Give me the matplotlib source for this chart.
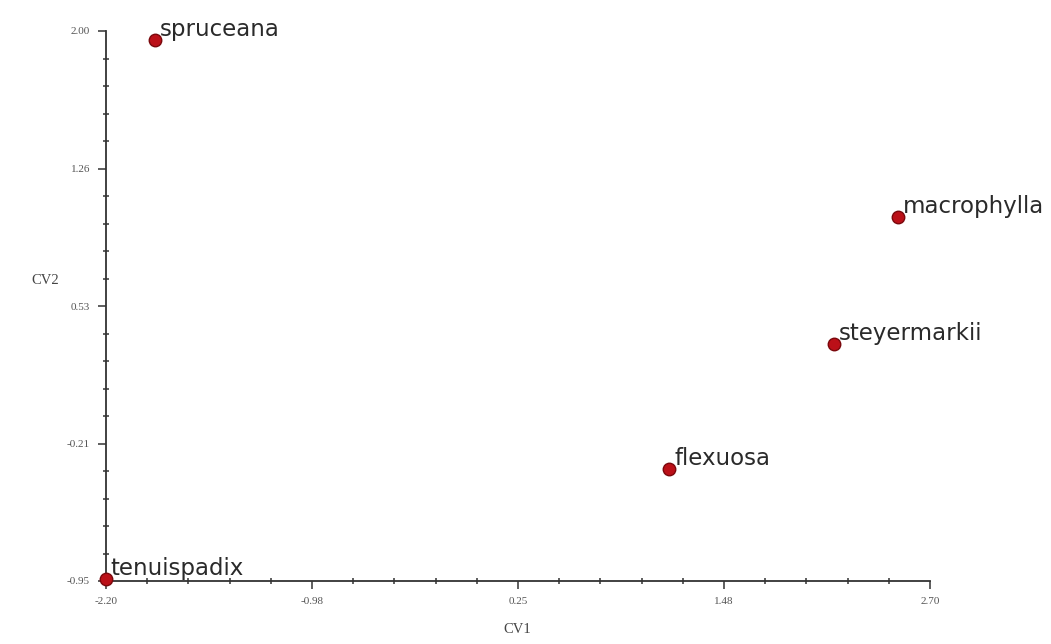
import numpy as np
import matplotlib
matplotlib.use("Agg")
import matplotlib.pyplot as plt
from matplotlib.ticker import AutoMinorLocator

# canonical variate scores
species = ["spruceana", "macrophylla", "steyermarkii", "flexuosa", "tenuispadix"]
cv1 = [-1.91, 2.51, 2.13, 1.15, -2.20]
cv2 = [1.95, 1.00, 0.32, -0.35, -0.94]

xticks = [-2.20, -0.975, 0.25, 1.475, 2.70]
xtick_labels = ["-2.20", "-0.98", "0.25", "1.48", "2.70"]
yticks = [-0.95, -0.2125, 0.525, 1.2625, 2.00]
ytick_labels = ["-0.95", "-0.21", "0.53", "1.26", "2.00"]

fig = plt.figure(figsize=(10.51, 6.44), dpi=100)
ax = fig.add_axes([106 / 1051, 1 - 581 / 644, 824 / 1051, 550 / 644])

ax.plot(cv1, cv2, "o", color="#bb1018", markeredgecolor="#7a080c",
        markeredgewidth=1.0, markersize=9, clip_on=False, zorder=3)

for name, x, y in zip(species, cv1, cv2):
    ax.annotate(name, (x, y), xytext=(3.5, 3), textcoords="offset points",
                ha="left", va="baseline", fontsize=16.5, color="#2a2a2a",
                family="DejaVu Sans")

ax.set_xlim(-2.20, 2.70)
ax.set_ylim(-0.95, 2.00)
ax.set_xticks(xticks)
ax.set_xticklabels(xtick_labels)
ax.set_yticks(yticks)
ax.set_yticklabels(ytick_labels)
ax.xaxis.set_minor_locator(AutoMinorLocator(5))
ax.yaxis.set_minor_locator(AutoMinorLocator(5))

for side in ["top", "right"]:
    ax.spines[side].set_visible(False)
for side in ["left", "bottom"]:
    ax.spines[side].set_linewidth(1.3)
    ax.spines[side].set_color("#333333")

ax.tick_params(which="major", direction="out", length=5.5, width=1.1,
               color="#333333", pad=6, labelsize=8, labelcolor="#555555")
ax.tick_params(which="minor", direction="inout", length=4, width=1.1,
               color="#333333")
for lab in ax.get_xticklabels() + ax.get_yticklabels():
    lab.set_family("Liberation Serif")

ax.set_xlabel("CV1", family="Liberation Serif", fontsize=10.5, color="#444444")
ax.set_ylabel("CV2", family="Liberation Serif", fontsize=10.5, color="#444444",
              rotation=0)
ax.xaxis.set_label_coords(0.499, -0.089)
ax.yaxis.set_label_coords(-0.074, 0.547)
ax.yaxis.label.set_va("center")
ax.xaxis.label.set_va("center")

fig.savefig("out.png", dpi=100)
